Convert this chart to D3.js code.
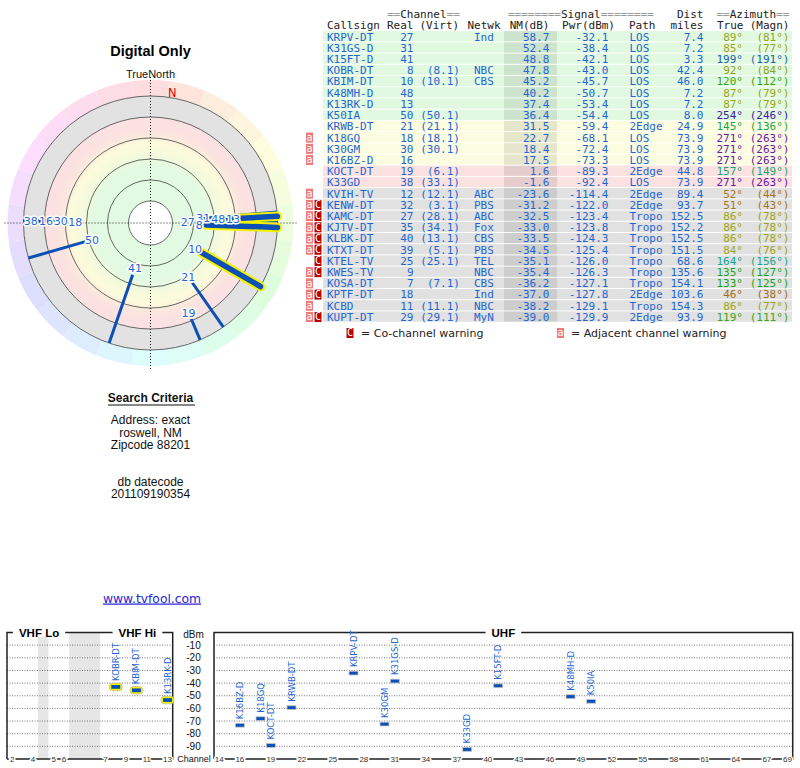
<!DOCTYPE html>
<html>
<head>
<meta charset="utf-8">
<script src="https://cdn.jsdelivr.net/npm/d3@7"></script>
<style>
  body { margin: 0; background: #fff; }
  svg { display: block; }
</style>
</head>
<body>
<svg id="chart" width="800" height="768"></svg>
<script>
// station table
const callsigns = ["KRPV-DT","K31GS-D","K15FT-D","KOBR-DT","KBIM-DT","K48MH-D","K13RK-D","K50IA","KRWB-DT","K18GQ","K30GM","K16BZ-D","KOCT-DT","K33GD","KVIH-TV","KENW-DT","KAMC-DT","KJTV-DT","KLBK-DT","KTXT-DT","KTEL-TV","KWES-TV","KOSA-DT","KPTF-DT","KCBD","KUPT-DT"];
const realCh = [27,31,41,8,10,48,13,50,21,18,30,16,19,38,12,32,27,35,40,39,25,9,7,18,11,29];
const virtCh = ["","","","8.1","10.1","","","50.1","21.1","18.1","30.1","","6.1","33.1","12.1","3.1","28.1","34.1","13.1","5.1","25.1","","7.1","","11.1","29.1"];
const network = ["Ind","","","NBC","CBS","","","","","","","","","","ABC","PBS","ABC","Fox","CBS","PBS","TEL","NBC","CBS","Ind","NBC","MyN"];
const nmDb = [58.7,52.4,48.8,47.8,45.2,40.2,37.4,36.4,31.5,22.7,18.4,17.5,1.6,-1.6,-23.6,-31.2,-32.5,-33.0,-33.5,-34.5,-35.1,-35.4,-36.2,-37.0,-38.2,-39.0];
const pwrDbm = [-32.1,-38.4,-42.1,-43.0,-45.7,-50.7,-53.4,-54.4,-59.4,-68.1,-72.4,-73.3,-89.3,-92.4,-114.4,-122.0,-123.4,-123.8,-124.3,-125.4,-126.0,-126.3,-127.1,-127.8,-129.1,-129.9];
const pathType = ["LOS","LOS","LOS","LOS","LOS","LOS","LOS","LOS","2Edge","LOS","LOS","LOS","2Edge","LOS","2Edge","2Edge","Tropo","Tropo","Tropo","Tropo","Tropo","Tropo","Tropo","2Edge","Tropo","2Edge"];
const distMi = [7.4,7.2,3.3,42.4,46.0,7.2,7.2,8.0,24.9,73.9,73.9,73.9,44.8,73.9,89.4,93.7,152.5,152.2,152.5,151.5,68.6,135.6,154.1,103.6,154.3,93.9];
const azTrue = [89,85,199,92,120,87,87,254,145,271,271,271,157,271,52,51,86,86,86,84,164,135,133,46,86,119];
const azMagn = [81,77,191,84,112,79,79,246,136,263,263,263,149,263,44,43,78,78,78,76,156,127,125,38,77,111];
const warnAdj = [0,0,0,0,0,0,0,0,0,1,1,1,0,0,1,1,1,1,1,1,0,1,1,1,1,1];
const warnCo  = [0,0,0,0,0,0,0,0,0,0,0,0,0,0,0,1,1,1,1,1,1,1,0,1,0,1];

// axis ticks
const polarRings = [80, 60, 40, 20, 0, -20];
const dbTicks = [-10,-20,-30,-40,-50,-60,-70,-80,-90];
const vhfSlots = [2,3,4,null,5,6,null,null,null,7,8,9,10,11,12,13];
const vhfTicks = [2,4,5,6,7,9,11,13];
const uhfTicks = [14,16,19,22,25,28,31,34,37,40,43,46,49,52,55,58,61,64,67,69];

const MONO = "DejaVu Sans Mono", SANS = "Liberation Sans, Arial, sans-serif", VERD = "DejaVu Sans";
const blueTxt = "#1f66d1", markBlue = "#0c4fb6";
const fmt = v => v.toFixed(1);

const svg = d3.select("#chart");
const defs = svg.append("defs");
const n = callsigns.length;

// ---------- polar plot ----------
const cx = 150.5, cy = 223;
const rPolar = d3.scaleLinear().domain([0, 80]).range([106, 22]);
const rad = d => d * Math.PI / 180;
const pt = (b, r) => [cx + r * Math.sin(rad(b)), cy - r * Math.cos(rad(b))];
const hueOf = d3.scaleLinear().domain([0,45,90,135,180,225,270,315,360]).range([0,35,68,125,195,225,275,300,360]);

svg.append("text").attr("x", cx).attr("y", 56).attr("text-anchor", "middle")
  .attr("font-family", SANS).attr("font-weight", "bold").attr("font-size", 14.5).text("Digital Only");
svg.append("text").attr("x", cx).attr("y", 78).attr("text-anchor", "middle")
  .attr("font-family", SANS).attr("font-size", 11).attr("fill", "#111").text("TrueNorth");

const polar = svg.append("g");
const arc = d3.arc();
d3.range(0, 360, 15).forEach(a => {
  polar.append("path").attr("transform", `translate(${cx},${cy})`)
    .attr("d", arc({innerRadius: rPolar(-20), outerRadius: 143, startAngle: rad(a - 7.5), endAngle: rad(a + 7.5)}))
    .attr("fill", d3.hsl(a, 0.9, 0.93));
});

const grad = defs.append("radialGradient").attr("id", "bands")
  .attr("gradientUnits", "userSpaceOnUse").attr("cx", cx).attr("cy", cy).attr("r", rPolar(-20));
[[0,"#e2f9e2"],[0.45,"#e2f9e2"],[0.56,"#f8fadc"],[0.63,"#fcfbdc"],[0.7,"#fbe6de"],[0.76,"#fbe1e1"],[0.832,"#fbe1e1"],[0.836,"#e2e2e2"],[1,"#e2e2e2"]]
  .forEach(s => grad.append("stop").attr("offset", s[0]).attr("stop-color", s[1]));
polar.append("circle").attr("cx", cx).attr("cy", cy).attr("r", rPolar(-20)).attr("fill", "url(#bands)");

polar.selectAll("circle.ring").data(polarRings).join("circle").attr("class", "ring")
  .attr("cx", cx).attr("cy", cy).attr("r", d => rPolar(d))
  .attr("fill", d => d === 80 ? "#fff" : "none").attr("stroke", "#444").attr("stroke-width", 0.8);

polar.append("line").attr("x1", cx - 146).attr("x2", cx + 146).attr("y1", cy).attr("y2", cy)
  .attr("stroke", "#222").attr("stroke-dasharray", "1,2");
polar.append("line").attr("x1", cx).attr("x2", cx).attr("y1", cy - 146).attr("y2", cy + 148)
  .attr("stroke", "#222").attr("stroke-dasharray", "1,2");

const mn = pt(9.5, 132);
polar.append("text").attr("x", mn[0]).attr("y", mn[1] + 4).attr("text-anchor", "middle")
  .attr("font-family", VERD).attr("font-size", 11.5).attr("fill", "#e00000").text("N");

const shown = d3.range(n).filter(i => nmDb[i] >= -20);
const isVhf = i => realCh[i] <= 13;
const drawOrder = shown.filter(i => !isVhf(i)).concat(shown.filter(isVhf));
drawOrder.forEach(i => {
  const a = pt(azTrue[i], rPolar(nmDb[i])), b = pt(azTrue[i], rPolar(-20));
  if (isVhf(i)) {
    polar.append("line").attr("x1", a[0]).attr("y1", a[1]).attr("x2", b[0]).attr("y2", b[1])
      .attr("stroke", "#f2f200").attr("stroke-width", 9.5).attr("stroke-linecap", "round");
    polar.append("line").attr("x1", a[0]).attr("y1", a[1]).attr("x2", b[0]).attr("y2", b[1])
      .attr("stroke", markBlue).attr("stroke-width", 5.5).attr("stroke-linecap", "round");
  } else {
    polar.append("line").attr("x1", a[0]).attr("y1", a[1]).attr("x2", b[0]).attr("y2", b[1])
      .attr("stroke", markBlue).attr("stroke-width", 3);
  }
});

// labels, pushed outward when they would collide
const placed = [];
shown.slice().sort((a, b) => nmDb[b] - nmDb[a]).forEach(i => {
  const w = String(realCh[i]).length * 7.25;
  let rr = rPolar(nmDb[i]) - 7, p = pt(azTrue[i], rr);
  while (rr < 140 && placed.some(q => Math.abs(q.x - p[0]) < (q.w + w) / 2 && Math.abs(q.y - p[1]) < 6)) {
    rr += 1; p = pt(azTrue[i], rr);
  }
  placed.push({x: p[0], y: p[1], w, t: realCh[i]});
});
polar.selectAll("text.lbl").data(placed).join("text").attr("class", "lbl")
  .attr("x", d => d.x).attr("y", d => d.y).attr("dy", "0.36em").attr("text-anchor", "middle")
  .attr("font-family", VERD).attr("font-size", 11).attr("fill", blueTxt)
  .attr("stroke", "#fff").attr("stroke-width", 3).attr("stroke-linejoin", "round")
  .attr("paint-order", "stroke").text(d => d.t);

// ---------- left texts ----------
const left = svg.append("g").attr("font-family", SANS).attr("font-size", 12).attr("text-anchor", "middle").attr("fill", "#111");
left.append("text").attr("x", cx).attr("y", 401.5).attr("font-weight", "bold").text("Search Criteria");
left.append("line").attr("x1", 108).attr("x2", 195).attr("y1", 405).attr("y2", 405).attr("stroke", "#111").attr("stroke-width", 1.2);
[["Address: exact", 424], ["roswell, NM", 436.5], ["Zipcode 88201", 448.5], ["db datecode", 486], ["201109190354", 498]]
  .forEach(t => left.append("text").attr("x", cx).attr("y", t[1]).text(t[0]));
left.append("text").attr("x", 152).attr("y", 602.5).attr("font-family", VERD).attr("font-size", 12.3)
  .attr("fill", "#2424d8").attr("text-decoration", "underline").text("www.tvfool.com");

// ---------- table ----------
const table = svg.append("g").attr("font-family", MONO).attr("font-size", 11);
const rowY = d3.scaleLinear().domain([0, n - 1]).range([36.7, 317]);
const rowFill = v => v >= 35 ? "#e1f9e1" : v >= 10 ? "#fcfce1" : v >= -10 ? "#fce1e1" : "#e1e1e1";

const hdr1 = table.append("g").attr("fill", "#222");
const eqText = (x, s, label, e) => {
  const t = hdr1.append("text").attr("x", x).attr("y", 18);
  t.append("tspan").attr("fill", "#9a9a9a").text("=".repeat(s));
  t.append("tspan").text(label);
  t.append("tspan").attr("fill", "#9a9a9a").text("=".repeat(e));
};
eqText(387, 2, "Channel", 2);
eqText(508, 8, "Signal", 8);
eqText(716.5, 2, "Azimuth", 2);
hdr1.append("text").attr("x", 703.5).attr("y", 18).attr("text-anchor", "end").text("Dist");

const hdr2 = [["Callsign",327,"start"],["Real",387,"start"],["(Virt)",419.5,"start"],["Netwk",467.5,"start"],
  ["NM(dB)",549.5,"end"],["Pwr(dBm)",615,"end"],["Path",629,"start"],["miles",703.5,"end"],["True",717,"start"],["(Magn)",789.5,"end"]];
table.selectAll("text.h2").data(hdr2).join("text").attr("class", "h2")
  .attr("x", d => d[1]).attr("y", 29).attr("text-anchor", d => d[2]).attr("fill", "#222").text(d => d[0]);

const rows = table.selectAll("g.row").data(d3.range(n)).join("g").attr("class", "row")
  .attr("transform", i => `translate(0,${rowY(i)})`);
rows.append("rect").attr("x", 323).attr("y", -5.6).attr("width", 469).attr("height", 10.3).attr("fill", i => rowFill(nmDb[i]));
rows.append("rect").attr("x", 504).attr("y", -5.6).attr("width", 53).attr("height", 10.3).attr("fill", "rgba(0,0,0,0.085)");

const cols = [
  [i => callsigns[i], 327, "start"],
  [i => realCh[i], 413.5, "end"],
  [i => virtCh[i] ? `(${virtCh[i]})` : "", 460, "end"],
  [i => network[i], 474, "start"],
  [i => fmt(nmDb[i]), 549.5, "end"],
  [i => fmt(pwrDbm[i]), 608.5, "end"],
  [i => pathType[i], 629.5, "start"],
  [i => fmt(distMi[i]), 703.5, "end"]
];
cols.forEach(c => rows.append("text").attr("x", c[1]).attr("y", 3.9).attr("text-anchor", c[2]).attr("fill", blueTxt).text(c[0]));
const azColor = a => d3.hsl(hueOf(a), 0.75, 0.37);
rows.append("text").attr("x", 743).attr("y", 3.9).attr("text-anchor", "end").attr("fill", i => azColor(azTrue[i])).text(i => `${azTrue[i]}°`);
rows.append("text").attr("x", 789.5).attr("y", 3.9).attr("text-anchor", "end").attr("fill", i => azColor(azTrue[i])).text(i => `(${azMagn[i]}°)`);

const warnBox = (sel, x, fill, ch) => {
  sel.append("rect").attr("x", x).attr("y", -5).attr("width", 7).attr("height", 10).attr("fill", fill);
  sel.append("text").attr("x", x + 3.5).attr("y", 3.3).attr("text-anchor", "middle").attr("font-size", 10).attr("fill", "#fff").text(ch);
};
rows.filter(i => warnAdj[i]).each(function () { warnBox(d3.select(this), 306, "#f07a7a", "a"); });
rows.filter(i => warnCo[i]).each(function () { warnBox(d3.select(this), 314.5, "#b80000", "C"); });

const lg = table.append("g").attr("transform", "translate(0,333)");
const lg1 = lg.append("g"); warnBox(lg1, 346.5, "#b80000", "C");
const lg2 = lg.append("g"); warnBox(lg2, 557, "#f07a7a", "a");
lg.append("text").attr("x", 361).attr("y", 4).attr("font-family", VERD).attr("font-size", 11).attr("fill", "#222").text("= Co-channel warning");
lg.append("text").attr("x", 571).attr("y", 4).attr("font-family", VERD).attr("font-size", 11).attr("fill", "#222").text("= Adjacent channel warning");

// ---------- spectrum ----------
const spec = svg.append("g");
const yTop = 632.5, yBot = 759;
const dbY = d3.scaleLinear().domain([0, -100]).range([yTop, yBot]);
const vhfX = d3.scaleLinear().domain([-0.5, 15.5]).range([7, 172.7]);
const uhfX = d3.scaleLinear().domain([13.5, 69.5]).range([214, 792.7]);
const chX = ch => ch <= 13 ? vhfX(vhfSlots.indexOf(ch)) : uhfX(ch);

// unused VHF gaps
[[2.5, 3.5], [5.5, 8.5]].forEach(g => spec.append("rect").attr("x", vhfX(g[0])).attr("y", yTop)
  .attr("width", vhfX(g[1]) - vhfX(g[0])).attr("height", yBot - yTop).attr("fill", "#e6e6e6"));

const panels = [[vhfX(-0.5), vhfX(15.5)], [uhfX(13.5), uhfX(69.5)]];
panels.forEach(p => {
  spec.selectAll(null).data(dbTicks).join("line")
    .attr("x1", p[0]).attr("x2", p[1]).attr("y1", d => dbY(d)).attr("y2", d => dbY(d))
    .attr("stroke", "#555").attr("stroke-width", 0.8).attr("stroke-dasharray", "1,1.5");
  spec.append("path").attr("d", `M${p[0]},${yBot}V${yTop}H${p[1]}V${yBot}H${p[0]}`)
    .attr("fill", "none").attr("stroke", "#222").attr("stroke-width", 1.5);
});

const bandLbl = (x, s) => {
  const t = spec.append("text").attr("x", x).attr("y", yTop + 4).attr("text-anchor", "middle")
    .attr("font-family", SANS).attr("font-weight", "bold").attr("font-size", 11.5).text(s);
  const w = t.node().getComputedTextLength() + 12;
  spec.insert("rect", () => t.node()).attr("x", x - w / 2).attr("y", yTop - 4).attr("width", w).attr("height", 8).attr("fill", "#fff");
};
bandLbl((vhfX(-0.5) + vhfX(5.5)) / 2 + 1, "VHF Lo");
bandLbl((vhfX(8.5) + vhfX(15.5)) / 2 + 1, "VHF Hi");
bandLbl((uhfX(13.5) + uhfX(69.5)) / 2, "UHF");

const axG = spec.append("g").attr("font-family", SANS).attr("fill", "#111").attr("text-anchor", "middle");
axG.append("text").attr("x", 193.5).attr("y", yTop + 5).attr("font-size", 10).text("dBm");
axG.selectAll("text.db").data(dbTicks).join("text").attr("class", "db")
  .attr("x", 193.5).attr("y", d => dbY(d) + 3.6).attr("font-size", 10).text(d => d);
axG.append("text").attr("x", 194).attr("y", yBot + 3).attr("font-size", 9).text("Channel");

const chTicks = vhfTicks.concat(uhfTicks);
spec.selectAll("text.ch").data(chTicks).join("text").attr("class", "ch")
  .attr("x", d => chX(d)).attr("y", yBot + 2.8).attr("text-anchor", "middle")
  .attr("font-family", SANS).attr("font-size", 8).attr("fill", "#333")
  .attr("stroke", "#fff").attr("stroke-width", 3).attr("paint-order", "stroke").text(d => d);

const onScale = d3.range(n).filter(i => pwrDbm[i] > -100);
const mk = spec.selectAll("g.mk").data(onScale).join("g").attr("class", "mk")
  .attr("transform", i => `translate(${chX(realCh[i])},${dbY(pwrDbm[i])})`);
mk.filter(isVhf).append("rect").attr("x", -6.5).attr("y", -3.8).attr("width", 13).attr("height", 7.6).attr("rx", 3.5)
  .attr("fill", "#f6f600").attr("stroke", "#aaa").attr("stroke-width", 0.6);
mk.append("rect").attr("x", -4.5).attr("y", -1.9).attr("width", 9).attr("height", 3.8)
  .attr("fill", markBlue).attr("stroke", i => isVhf(i) ? "none" : "#c4c4c4").attr("stroke-width", 0.8);
mk.append("text").attr("transform", "rotate(-90)").attr("x", 6).attr("y", 3)
  .attr("font-family", VERD).attr("font-size", 8.5).attr("fill", blueTxt).text(i => callsigns[i]);
</script>
</body>
</html>
